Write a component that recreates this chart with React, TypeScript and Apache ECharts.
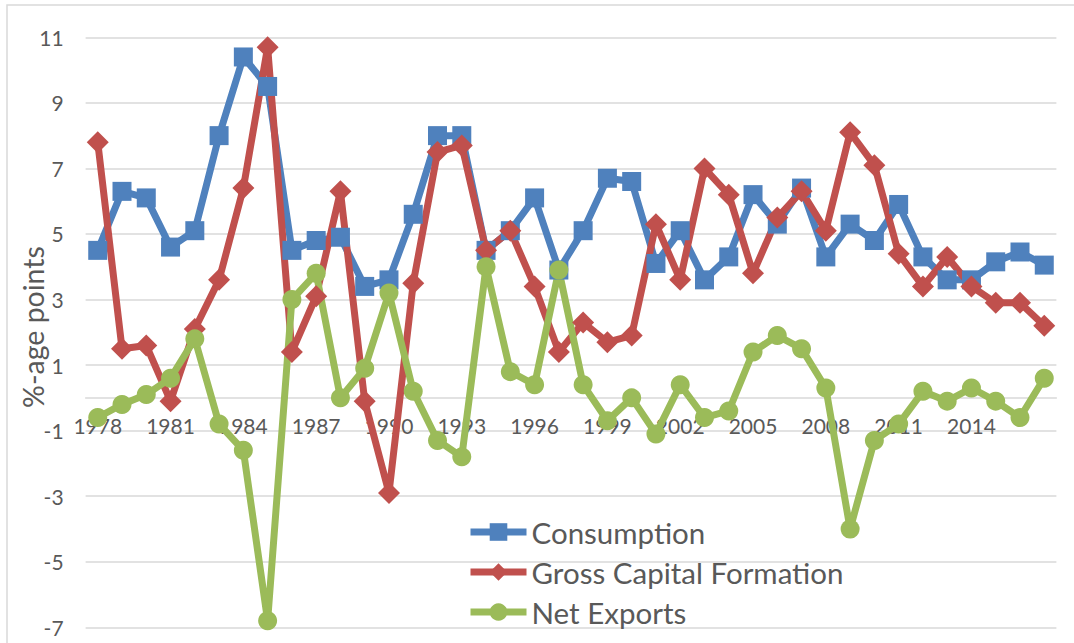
import React, { useEffect, useRef } from "react";
import * as echarts from "echarts";

const years = [
  "1978", "1979", "1980", "1981", "1982", "1983", "1984", "1985", "1986", "1987",
  "1988", "1989", "1990", "1991", "1992", "1993", "1994", "1995", "1996", "1997",
  "1998", "1999", "2000", "2001", "2002", "2003", "2004", "2005", "2006", "2007",
  "2008", "2009", "2010", "2011", "2012", "2013", "2014", "2015", "2016", "2017",
];

const consumption = [
  4.5, 6.3, 6.1, 4.6, 5.1, 8.0, 10.4, 9.5, 4.5, 4.8,
  4.9, 3.4, 3.6, 5.6, 8.0, 8.0, 4.5, 5.1, 6.1, 3.9,
  5.1, 6.7, 6.6, 4.1, 5.1, 3.6, 4.3, 6.2, 5.3, 6.4,
  4.3, 5.3, 4.8, 5.9, 4.3, 3.6, 3.6, 4.15, 4.45, 4.05,
];

const grossCapitalFormation = [
  7.8, 1.5, 1.6, -0.1, 2.1, 3.6, 6.4, 10.7, 1.4, 3.1,
  6.3, -0.1, -2.9, 3.5, 7.5, 7.7, 4.5, 5.1, 3.4, 1.4,
  2.3, 1.7, 1.9, 5.3, 3.6, 7.0, 6.2, 3.8, 5.5, 6.3,
  5.1, 8.1, 7.1, 4.4, 3.4, 4.3, 3.4, 2.9, 2.9, 2.2,
];

const netExports = [
  -0.6, -0.2, 0.1, 0.6, 1.8, -0.8, -1.6, -6.8, 3.0, 3.8,
  0.0, 0.9, 3.2, 0.2, -1.3, -1.8, 4.0, 0.8, 0.4, 3.9,
  0.4, -0.7, 0.0, -1.1, 0.4, -0.6, -0.4, 1.4, 1.9, 1.5,
  0.3, -4.0, -1.3, -0.8, 0.2, -0.1, 0.3, -0.1, -0.6, 0.6,
];

const seriesNames = ["Consumption", "Gross Capital Formation", "Net Exports"];
const seriesColors = ["#4F81BD", "#C0504D", "#9BBB59"];
const yAxisTitle = "%-age points";
const yMin = -7;
const yMax = 11;

const FONT = "Lato, 'Open Sans', sans-serif";
const TEXT = "#595959";
const GRID = "#d9d9d9";

const GRID_TOP = 37.3;
const GRID_BOTTOM = 15.7;
const CHART_H = 643;
const LINE_W = 7;

export default function App() {
  const ref = useRef<HTMLDivElement>(null);

  useEffect(() => {
    document.body.style.margin = "0";
    if (!ref.current) return;
    const chart = echarts.init(ref.current, undefined, { renderer: "svg" });
    const plotH = CHART_H - GRID_TOP - GRID_BOTTOM;
    // move the category axis up from the grid bottom (yMin) to the value 0
    const zeroOffset = -((0 - yMin) / (yMax - yMin)) * plotH;
    const mk = (name: string, data: number[], color: string, symbol: string, size: number) => ({
      name,
      type: "line",
      data,
      symbol,
      symbolSize: size,
      showSymbol: true,
      showAllSymbol: true,
      color,
      lineStyle: { width: LINE_W, color, type: "solid" },
      itemStyle: { color, borderWidth: 0 },
      emphasis: { disabled: true },
    });
    chart.setOption({
      animation: false,
      backgroundColor: "#ffffff",
      textStyle: { fontFamily: FONT },
      graphic: [
        {
          type: "rect",
          shape: { x: 7, y: 5, width: 1100, height: 700 },
          style: { fill: "none", stroke: GRID, lineWidth: 1.5 },
          silent: true,
          z: -10,
        },
        {
          type: "text",
          x: 33,
          y: 327,
          rotation: Math.PI / 2,
          style: {
            text: yAxisTitle,
            fill: TEXT,
            font: `28.5px ${FONT}`,
            align: "center",
            verticalAlign: "middle",
          },
          silent: true,
        },
      ],
      grid: { left: 85.6, right: 17.6, top: GRID_TOP, bottom: GRID_BOTTOM, containLabel: false },
      legend: {
        orient: "vertical",
        left: 467,
        top: 517,
        padding: 0,
        data: seriesNames,
        itemWidth: 56,
        itemHeight: 22,
        itemGap: 10,
        lineStyle: { width: LINE_W },
        textStyle: { fontSize: 29.5, color: TEXT, fontFamily: FONT, lineHeight: 30 },
      },
      xAxis: {
        type: "category",
        data: years,
        boundaryGap: true,
        position: "bottom",
        offset: zeroOffset,
        axisLine: {
          show: true,
          onZero: false,
          lineStyle: { color: GRID, width: 1.5 },
        },
        axisTick: { show: false },
        axisLabel: {
          interval: (i: number) => i % 3 === 0 && i < years.length - 1,
          margin: 17,
          fontSize: 21,
          color: TEXT,
          fontFamily: FONT,
        },
        splitLine: { show: false },
      },
      yAxis: {
        type: "value",
        min: yMin,
        max: yMax,
        interval: 1,
        axisLine: { show: false },
        axisTick: { show: false },
        axisLabel: {
          formatter: (v: number) => (Math.abs(v) % 2 === 1 ? String(v) : ""),
          margin: 22,
          fontSize: 21,
          color: TEXT,
          fontFamily: FONT,
        },
        splitLine: {
          show: true,
          lineStyle: { color: [GRID, "rgba(0,0,0,0)"], width: 1.5 },
        },
      },
      series: [
        mk(seriesNames[0], consumption, seriesColors[0], "rect", 19),
        mk(seriesNames[1], grossCapitalFormation, seriesColors[1], "diamond", 22),
        mk(seriesNames[2], netExports, seriesColors[2], "circle", 19),
      ],
    });
    return () => chart.dispose();
  }, []);

  return <div ref={ref} style={{ width: 1074, height: 643 }} />;
}
